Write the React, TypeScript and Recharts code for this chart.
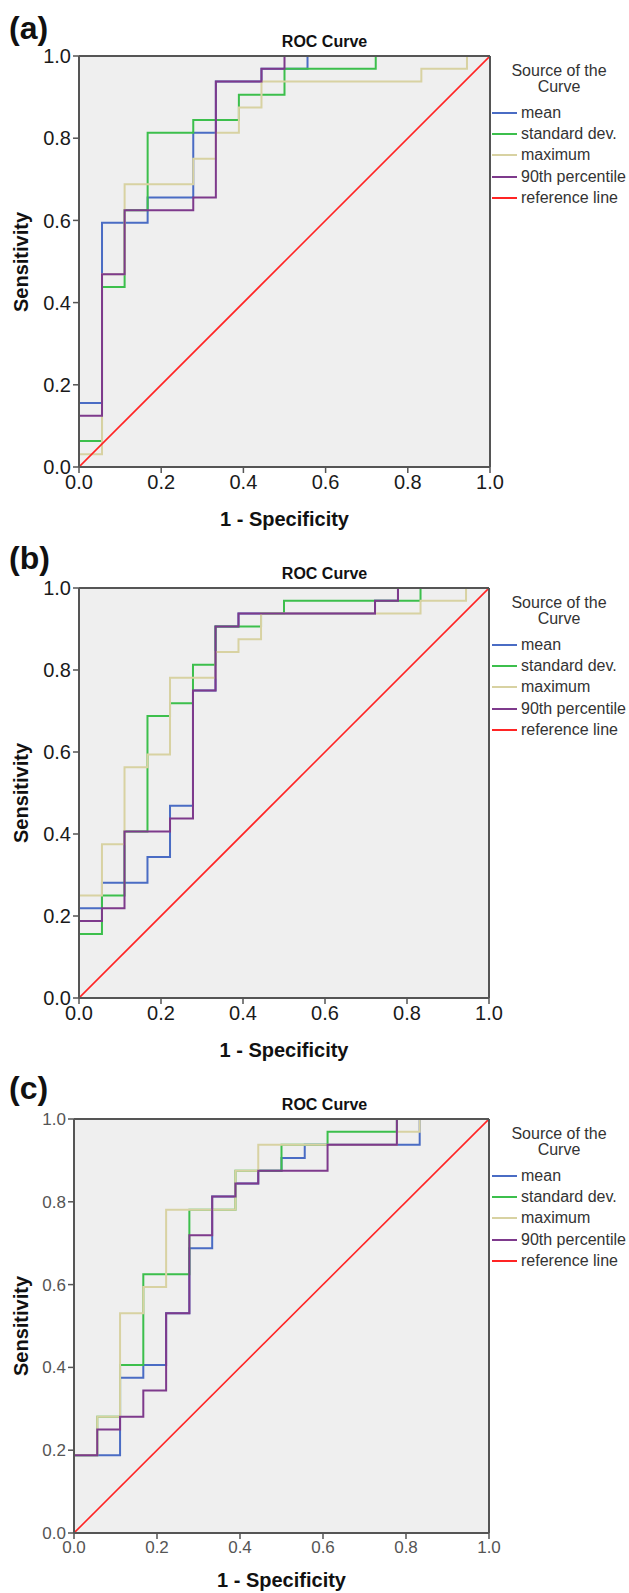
import React from "react";
import { LineChart, Line, XAxis, YAxis, ReferenceArea, ReferenceLine } from "recharts";

// ROC operating points [1 - specificity, sensitivity].
// Drawn with stepAfter, so each point is the top of a vertical jump.

// (a)
const A_MEAN = [[0, 0], [0, 0.156], [0.056, 0.594], [0.167, 0.656], [0.278, 0.813], [0.333, 0.938], [0.444, 0.969], [0.556, 1], [1, 1]];
const A_SD = [[0, 0], [0, 0.063], [0.056, 0.438], [0.111, 0.625], [0.167, 0.813], [0.278, 0.844], [0.389, 0.906], [0.5, 0.969], [0.722, 1], [1, 1]];
const A_MAX = [[0, 0], [0, 0.031], [0.056, 0.469], [0.111, 0.688], [0.278, 0.75], [0.333, 0.813], [0.389, 0.875], [0.444, 0.938], [0.833, 0.969], [0.944, 1], [1, 1]];
const A_P90 = [[0, 0], [0, 0.125], [0.056, 0.469], [0.111, 0.625], [0.278, 0.656], [0.333, 0.938], [0.444, 0.969], [0.5, 1], [1, 1]];

// (b)
const B_MEAN = [[0, 0], [0, 0.219], [0.056, 0.281], [0.167, 0.344], [0.222, 0.469], [0.278, 0.75], [0.333, 0.906], [0.389, 0.938], [0.722, 0.969], [0.778, 1], [1, 1]];
const B_SD = [[0, 0], [0, 0.156], [0.056, 0.25], [0.111, 0.406], [0.167, 0.688], [0.222, 0.719], [0.278, 0.813], [0.333, 0.906], [0.444, 0.938], [0.5, 0.969], [0.833, 1], [1, 1]];
const B_MAX = [[0, 0], [0, 0.25], [0.056, 0.375], [0.111, 0.563], [0.167, 0.594], [0.222, 0.781], [0.333, 0.844], [0.389, 0.875], [0.444, 0.938], [0.833, 0.969], [0.944, 1], [1, 1]];
const B_P90 = [[0, 0], [0, 0.188], [0.056, 0.219], [0.111, 0.406], [0.222, 0.438], [0.278, 0.75], [0.333, 0.906], [0.389, 0.938], [0.722, 0.969], [0.778, 1], [1, 1]];

// (c)
const C_MEAN = [[0, 0], [0, 0.188], [0.111, 0.375], [0.167, 0.406], [0.222, 0.531], [0.278, 0.688], [0.333, 0.813], [0.389, 0.844], [0.444, 0.875], [0.5, 0.906], [0.556, 0.938], [0.833, 1], [1, 1]];
const C_SD = [[0, 0], [0, 0.188], [0.056, 0.281], [0.111, 0.406], [0.167, 0.625], [0.278, 0.781], [0.389, 0.875], [0.5, 0.938], [0.611, 0.969], [0.778, 1], [1, 1]];
const C_MAX = [[0, 0], [0, 0.188], [0.056, 0.281], [0.111, 0.531], [0.167, 0.594], [0.222, 0.781], [0.389, 0.875], [0.444, 0.938], [0.778, 0.969], [0.833, 1], [1, 1]];
const C_P90 = [[0, 0], [0, 0.188], [0.056, 0.25], [0.111, 0.281], [0.167, 0.344], [0.222, 0.531], [0.278, 0.719], [0.333, 0.813], [0.389, 0.844], [0.444, 0.875], [0.611, 0.938], [0.778, 1], [1, 1]];

const REF_LINE = [[0, 0], [1, 1]];
const TICKS = [0, 0.2, 0.4, 0.6, 0.8, 1];

const SERIES_NAMES = ["mean", "standard dev.", "maximum", "90th percentile"];
const SERIES_COLORS = ["#4a6cc4", "#3cbf4c", "#d8d2a2", "#7e3a8c"];
const REF_NAME = "reference line";
const REF_COLOR = "#ff2424";

const FONT = '"Liberation Sans", Arial, sans-serif';
const W = 629;

const PANELS = [
  { label: "(a)", top: 0, height: 530, plot: { left: 79, right: 490, top: 56, bottom: 467 }, curves: [A_MEAN, A_SD, A_MAX, A_P90], tickSize: 20, tickColor: "#1a1a1a", xTitleGap: 52 },
  { label: "(b)", top: 530, height: 530, plot: { left: 79, right: 489, top: 58, bottom: 468 }, curves: [B_MEAN, B_SD, B_MAX, B_P90], tickSize: 20, tickColor: "#1a1a1a", xTitleGap: 52 },
  // bottom panel: x title sits right at the page edge, pulled up a touch so it stays whole
  { label: "(c)", top: 1060, height: 533, plot: { left: 74, right: 489, top: 59, bottom: 473 }, curves: [C_MEAN, C_SD, C_MAX, C_P90], tickSize: 17, tickColor: "#555", xTitleGap: 47 },
];

const toPts = (arr: number[][]) => arr.map(([x, y]) => ({ x, y }));
const fmt = (v: number) => v.toFixed(1);

type Panel = (typeof PANELS)[number];

function RocPanel({ p }: { p: Panel }) {
  const { plot } = p;
  const xAxisH = 40;
  const yAxisW = 60;
  const cx = (plot.left + plot.right) / 2;
  const legendItems = [
    ...SERIES_NAMES.map((n, i) => ({ name: n, color: SERIES_COLORS[i] })),
    { name: REF_NAME, color: REF_COLOR },
  ];

  return (
    <div style={{ position: "absolute", left: 0, top: p.top, width: W, height: p.height, fontFamily: FONT }}>
      <LineChart
        width={W}
        height={p.height}
        margin={{ top: plot.top, left: plot.left - yAxisW, right: W - plot.right, bottom: p.height - plot.bottom - xAxisH }}
      >
        <ReferenceArea x1={0} x2={1} y1={0} y2={1} fill="#efefef" fillOpacity={1} stroke="none" />
        <XAxis
          dataKey="x"
          type="number"
          domain={[0, 1]}
          ticks={TICKS}
          tickFormatter={fmt}
          height={xAxisH}
          tickSize={6}
          tick={{ fontSize: p.tickSize, fill: p.tickColor, fontFamily: FONT }}
          tickLine={{ stroke: "#555", strokeWidth: 1.5 }}
          axisLine={{ stroke: "#555", strokeWidth: 2 }}
          allowDataOverflow
        />
        <YAxis
          type="number"
          domain={[0, 1]}
          ticks={TICKS}
          tickFormatter={fmt}
          width={yAxisW}
          tickSize={6}
          tick={{ fontSize: p.tickSize, fill: p.tickColor, fontFamily: FONT }}
          tickLine={{ stroke: "#555", strokeWidth: 1.5 }}
          axisLine={{ stroke: "#555", strokeWidth: 2 }}
          allowDataOverflow
        />
        {p.curves.map((c, i) => (
          <Line
            key={SERIES_NAMES[i]}
            data={toPts(c)}
            dataKey="y"
            name={SERIES_NAMES[i]}
            type="stepAfter"
            stroke={SERIES_COLORS[i]}
            strokeWidth={2}
            dot={false}
            activeDot={false}
            isAnimationActive={false}
          />
        ))}
        <Line data={toPts(REF_LINE)} dataKey="y" name={REF_NAME} type="linear" stroke={REF_COLOR} strokeWidth={1.6} dot={false} activeDot={false} isAnimationActive={false} />
        <ReferenceLine y={1} stroke="#555" strokeWidth={2} />
        <ReferenceLine x={1} stroke="#555" strokeWidth={2} />
      </LineChart>

      <div style={{ position: "absolute", left: 9, top: 12, fontSize: 32, fontWeight: 700, lineHeight: 1, color: "#111" }}>{p.label}</div>
      <div style={{ position: "absolute", left: 324.5, top: plot.top - 14, transform: "translate(-50%,-50%)", fontSize: 16, fontWeight: 700, whiteSpace: "nowrap", color: "#111" }}>ROC Curve</div>
      <div style={{ position: "absolute", left: 21, top: (plot.top + plot.bottom) / 2, transform: "translate(-50%,-50%) rotate(-90deg)", fontSize: 20, fontWeight: 700, whiteSpace: "nowrap", color: "#111" }}>Sensitivity</div>
      <div style={{ position: "absolute", left: cx, top: plot.bottom + p.xTitleGap, transform: "translate(-50%,-50%)", fontSize: 20, lineHeight: "20px", fontWeight: 700, whiteSpace: "nowrap", color: "#111" }}>1 - Specificity</div>

      <div style={{ position: "absolute", left: 559, top: plot.top + 23, transform: "translate(-50%,-50%)", fontSize: 16, lineHeight: "16px", textAlign: "center", color: "#333", whiteSpace: "nowrap" }}>
        Source of the
        <br />
        Curve
      </div>
      {legendItems.map((it, i) => (
        <div key={it.name} style={{ position: "absolute", left: 492, top: plot.top + 57 + i * 21.2, transform: "translateY(-50%)", display: "flex", alignItems: "center", fontSize: 16, color: "#333", whiteSpace: "nowrap" }}>
          <span style={{ display: "inline-block", width: 25, height: 2, background: it.color, marginRight: 4 }} />
          {it.name}
        </div>
      ))}
    </div>
  );
}

export default function App() {
  return (
    <div style={{ position: "absolute", left: 0, top: 0, width: W, height: 1593, background: "#fff", overflow: "hidden" }}>
      {PANELS.map((p) => (
        <RocPanel key={p.label} p={p} />
      ))}
    </div>
  );
}
